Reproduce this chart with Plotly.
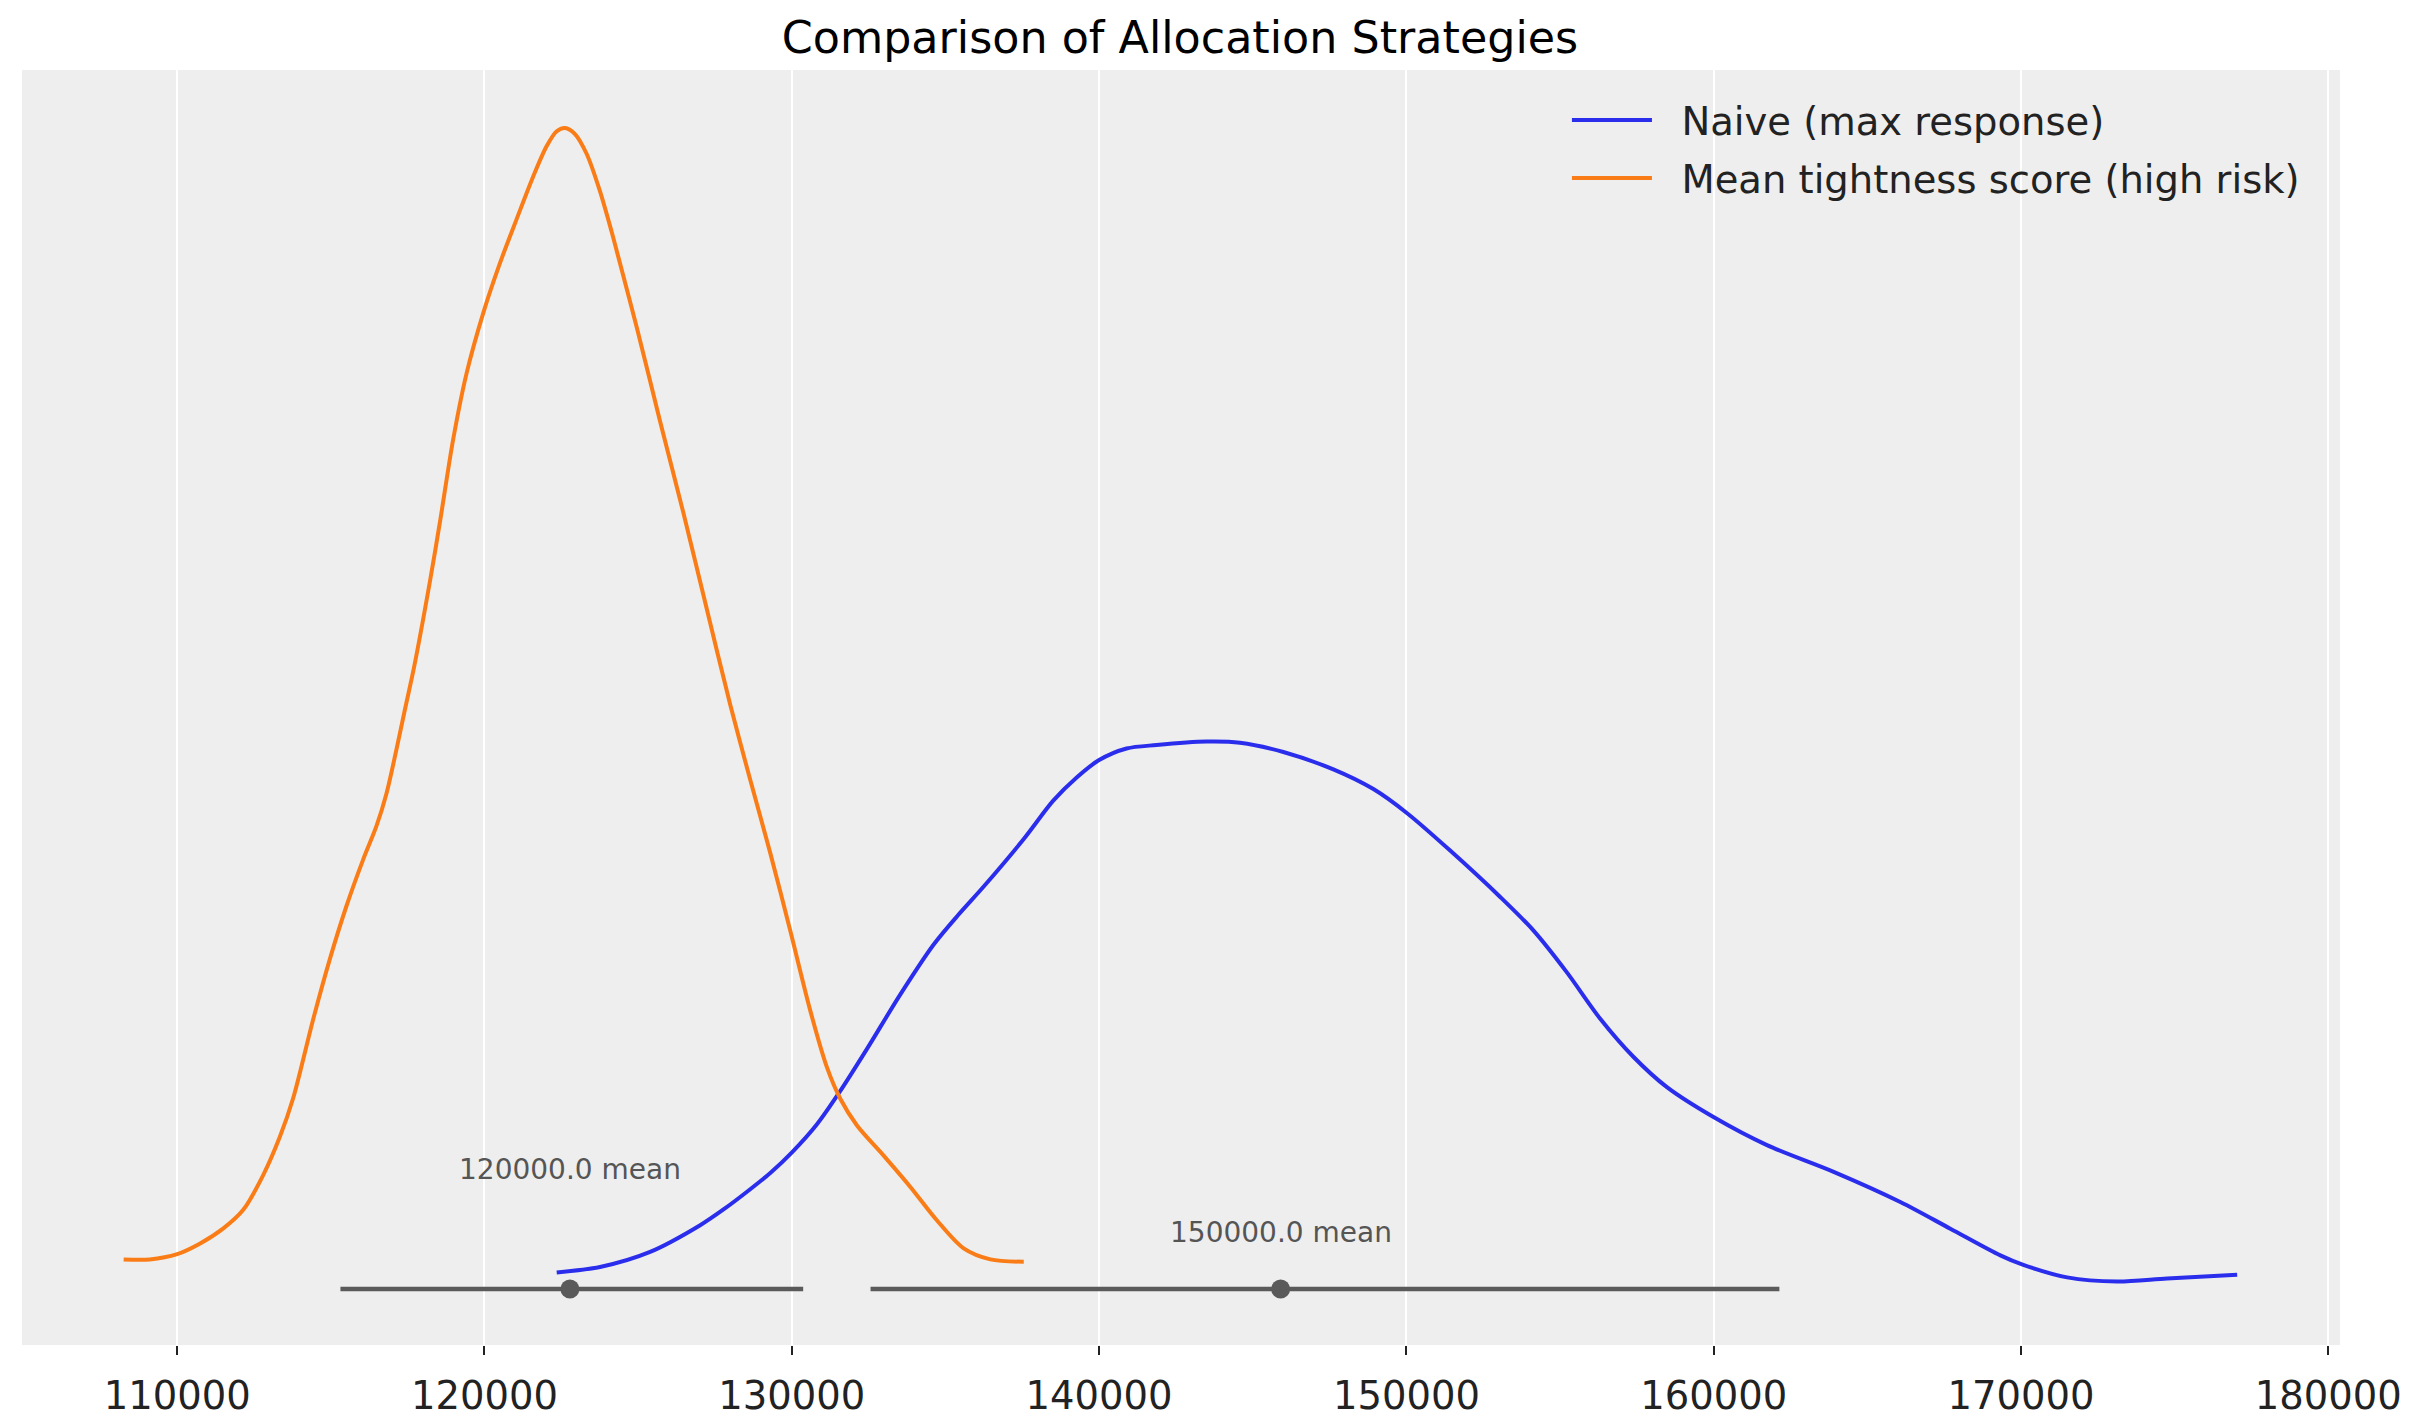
import plotly.graph_objects as go

# KDE curves (density in arbitrary units, HDI line at 0)
naive_x = [122350, 123761, 125389, 127018, 127800, 128647, 129300, 130014, 130819, 131535,
           132447, 133533, 134617, 135400, 136245, 137548, 138508, 139270, 140000, 140893,
           141870, 143500, 144584, 145995, 147623, 148926, 150033, 151424, 153052, 154137,
           155222, 156307, 157392, 158477, 160007, 161733, 163903, 166072, 167700, 169327,
           170053, 171500, 173128, 174755, 177034]
naive_y = [1.43, 1.9, 3.2, 5.5, 6.9, 8.6, 10.0, 11.8, 14.2, 16.9,
           20.7, 25.4, 29.7, 32.2, 34.7, 38.8, 42.1, 44.1, 45.6, 46.6,
           46.9, 47.2, 47.1, 46.3, 44.8, 43.1, 41.0, 37.8, 33.8, 30.9,
           27.3, 23.3, 20.0, 17.4, 14.8, 12.4, 10.1, 7.5, 5.2, 2.9,
           2.1, 1.0, 0.64, 0.9, 1.23]

tight_x = [108258, 109104, 110000, 110733, 111492, 112143, 112795, 113338, 113768, 114420,
           114963, 115506, 116048, 116483, 116809, 117134, 117406, 117700, 118224, 118567,
           118977, 119413, 119954, 120497, 121040, 121582, 122016, 122342, 122622, 122938,
           123319, 123752, 124133, 124403, 124956, 125715, 126474, 127236, 127995, 128647,
           129298, 129949, 130601, 131145, 131578, 132122, 132989, 133858, 134727, 135594,
           136463, 137548]
tight_y = [2.55, 2.55, 3.0, 3.9, 5.2, 6.8, 9.8, 13.1, 16.4, 23.2,
           28.4, 33.0, 37.0, 39.9, 42.7, 46.5, 49.9, 53.5, 61.0, 66.4,
           73.2, 78.9, 84.1, 88.4, 92.2, 95.9, 98.5, 99.8, 100.1, 99.6,
           97.9, 94.7, 91.2, 88.5, 82.9, 74.8, 66.9, 58.6, 50.4, 43.9,
           37.6, 30.9, 24.0, 19.1, 16.4, 14.1, 11.5, 8.8, 5.9, 3.5,
           2.55, 2.35]

# HDI intervals and means
naive_hdi = [132563, 162137]
tight_hdi = [115312, 130370]
naive_mean = 145907
tight_mean = 122780
naive_label = "150000.0 mean"
tight_label = "120000.0 mean"
naive_label_y = 4.86
tight_label_y = 10.26

tick_vals = [110000, 120000, 130000, 140000, 150000, 160000, 170000, 180000]

blue = "#2a2eec"
orange = "#fa7c17"
grey = "#5a5a5a"

# page body has an 8px margin, so the figure is a bit smaller than the window
W, H = 2415, 1415

fig = go.Figure()
fig.add_trace(go.Scatter(x=naive_x, y=naive_y, mode="lines",
                         name="\u00a0\u00a0Naive (max response)",
                         line=dict(color=blue, width=4, shape="spline", smoothing=0.85),
                         legendgroup="a"))
fig.add_trace(go.Scatter(x=tight_x, y=tight_y, mode="lines",
                         name="\u00a0\u00a0Mean tightness score (high risk)",
                         line=dict(color=orange, width=4, shape="spline", smoothing=0.85),
                         legendgroup="b"))

for hdi, m in [(tight_hdi, tight_mean), (naive_hdi, naive_mean)]:
    fig.add_trace(go.Scatter(x=hdi, y=[0, 0], mode="lines", line=dict(color=grey, width=4.5),
                             showlegend=False, hoverinfo="skip"))
    fig.add_trace(go.Scatter(x=[m], y=[0], mode="markers", marker=dict(color=grey, size=19),
                             showlegend=False))

fig.add_annotation(x=tight_mean, y=tight_label_y, text=tight_label, showarrow=False,
                   font=dict(size=28, color="#555555"))
fig.add_annotation(x=naive_mean, y=naive_label_y, text=naive_label, showarrow=False,
                   font=dict(size=28, color="#555555"))

fig.update_layout(
    width=W, height=H,
    margin=dict(l=14, r=83, t=62, b=78),
    paper_bgcolor="white", plot_bgcolor="#eeeeee",
    font=dict(family="DejaVu Sans", color="#222222"),
    title=dict(text="Comparison of Allocation Strategies", x=0.4853, xanchor="center",
               y=1 - 29 / H, yanchor="middle", yref="container",
               font=dict(size=44.4, color="black")),
    legend=dict(x=0.6665, y=0.9855, xanchor="left", yanchor="top", bgcolor="rgba(0,0,0,0)",
                font=dict(size=38.5, color="#222222"), itemwidth=80, tracegroupgap=5),
    showlegend=True,
)
fig.update_xaxes(range=[104950, 180380], tickvals=tick_vals, tickformat="d",
                 showgrid=True, gridcolor="white", gridwidth=2, zeroline=False,
                 ticks="outside", ticklen=9, tickwidth=2, tickcolor="#222222",
                 ticklabelstandoff=8, automargin=False,
                 tickfont=dict(size=38.5, color="#222222"), showline=False)
fig.update_yaxes(range=[-4.83, 105.1], showticklabels=False, showgrid=False,
                 zeroline=False, ticks="", automargin=False)

fig.write_html("out.html")
